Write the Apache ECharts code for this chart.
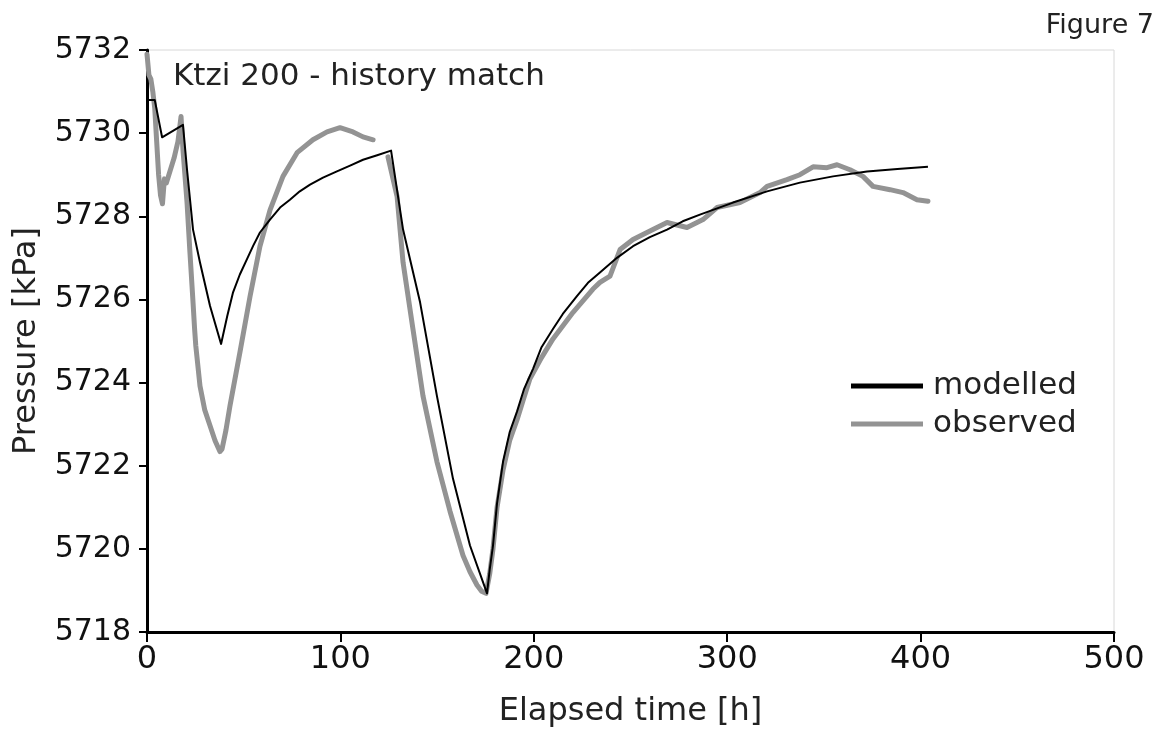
<!DOCTYPE html>
<html>
<head>
<meta charset="utf-8">
<script src="https://cdn.jsdelivr.net/npm/echarts@6/dist/echarts.min.js"></script>
<style>
    html, body { margin: 0; padding: 0; background: #fff; }
    #chart { width: 1164px; height: 733px; }
</style>
</head>
<body>
<div id="chart"></div>
<script>
    // modelled pressure (black line)
    var modT = [0, 4, 7.8, 18.6, 20.7, 23.8, 27.4, 32.6, 38.3, 41.5, 44.5, 48, 51.7, 55, 58.4, 63.6, 68.8, 73.9, 79, 84.3, 91, 98.2, 105, 111.7, 119, 126.2,
        132.4, 141.2, 149.9, 158.2, 167.0, 175.8, 177.2, 178.9, 181, 184.1, 187.5, 191.3, 195, 199.6, 204, 209.9, 215, 222.3, 228, 234.2, 243, 251.3, 260, 268.9, 277, 285.9,
        303.0, 320.6, 337.6, 354.7, 372.3, 388, 403.8]
    var modP = [5730.8, 5730.8, 5729.9, 5730.2, 5729.12, 5727.68, 5726.89, 5725.84, 5724.93, 5725.6, 5726.17, 5726.6, 5726.97, 5727.3, 5727.61, 5727.92, 5728.21, 5728.40, 5728.6, 5728.76, 5728.93, 5729.08, 5729.22, 5729.36, 5729.47, 5729.58,
        5727.68, 5725.93, 5723.68, 5721.69, 5720.08, 5718.93, 5719.5, 5720.08, 5721.1, 5722.1, 5722.8, 5723.3, 5723.85, 5724.33, 5724.85, 5725.29, 5725.65, 5726.08, 5726.4, 5726.65, 5727.0, 5727.28, 5727.5, 5727.68, 5727.88, 5728.04,
        5728.33, 5728.60, 5728.81, 5728.96, 5729.08, 5729.14, 5729.19]

    // observed pressure (grey line), null = gap in the record
    var obsT = [0, 1, 2, 3, 4, 5, 6, 7, 8, 9, 10, 12, 14, 16, 17.6, 18.6, 20.7, 22.2, 23.8, 24.6, 25.2, 27.4, 29.8, 32.6, 35.2, 37.7, 38.8,
        40.8, 42.9, 48.1, 53.3, 58.4, 63.6, 70.3, 77.6, 85.8, 93.1, 99.8, 106.5, 111.7, 116.9, 120,
        124.6, 129.3, 132.4, 137.5, 142.7, 149.9, 156.7, 163.4, 167, 170.6, 173, 175.3, 177.2, 178.9, 181, 184.1, 187.5, 191.3, 195, 198.0, 204, 209.9, 220.3, 230.6, 234.2,
        239.4, 244.6, 251.3, 261.6, 268.9, 279.2, 287.5, 294.7, 306.6, 317.0, 320.6, 330.9, 337.6, 344.4, 351.6, 356.8, 363.5,
        370.2, 375.4, 384.2, 390.9, 398.1, 403.8]
    var obsP = [5731.9, 5731.4, 5731.3, 5731.0, 5730.6, 5729.8, 5729.0, 5728.5, 5728.3, 5728.9, 5728.8, 5729.1, 5729.4, 5729.8, 5730.4, 5729.6, 5728.33, 5727.13, 5725.93, 5725.3, 5724.9, 5723.92, 5723.35, 5722.96, 5722.6, 5722.34, 5722.4,
        5722.85, 5723.44, 5724.74, 5726.08, 5727.28, 5728.15, 5728.96, 5729.53, 5729.84, 5730.03, 5730.13, 5730.03, 5729.91, 5729.84, null,
        5729.43, 5728.48, 5726.89, 5725.29, 5723.68, 5722.1, 5720.9, 5719.84, 5719.45, 5719.13, 5718.98, 5718.93, 5719.4, 5720.0, 5721.0, 5721.9, 5722.6, 5723.1, 5723.65, 5724.09, 5724.6, 5725.05, 5725.69, 5726.25, 5726.41,
        5726.56, 5727.2, 5727.44, 5727.68, 5727.85, 5727.73, 5727.92, 5728.21, 5728.33, 5728.57, 5728.72, 5728.88, 5729.0, 5729.19, 5729.17, 5729.24, 5729.12,
        5728.96, 5728.72, 5728.64, 5728.57, 5728.40, 5728.36]

    var font = 'DejaVu Sans'

    function pairs(t, p) {
        let out = []
        for (let i = 0; i < t.length; i++) {
            out.push([t[i], p[i] == null ? '-' : p[i]])
        }
        return out
    }

    var myChart = echarts.init(document.getElementById('chart'))
    var option = {
        animation: false,
        backgroundColor: '#fff',
        textStyle: { fontFamily: font },
        title: [
            {
                text: 'Ktzi 200 - history match',
                left: 168, top: 56,
                textStyle: { fontFamily: font, fontSize: 31, fontWeight: 'normal', color: '#222' }
            },
            {
                text: 'Figure 7',
                right: 5, top: 7,
                textStyle: { fontFamily: font, fontSize: 27, fontWeight: 'normal', color: '#222' }
            }
        ],
        legend: {
            orient: 'vertical',
            left: 846, top: 364,
            icon: 'rect',
            itemWidth: 72, itemHeight: 5,
            itemGap: 4,
            textStyle: { fontFamily: font, fontSize: 31, color: '#222', lineHeight: 34, padding: [0, 0, 0, 5] },
            data: ['modelled', 'observed']
        },
        grid: {
            left: 147, right: 50, top: 50, bottom: 99,
            show: true, borderColor: '#d8d8d8', borderWidth: 1
        },
        xAxis: {
            type: 'value',
            min: 0, max: 500, interval: 100,
            name: 'Elapsed time [h]',
            nameLocation: 'middle', nameGap: 64,
            nameTextStyle: { fontFamily: font, fontSize: 32, color: '#222' },
            axisLine: { lineStyle: { color: '#000', width: 3 } },
            axisTick: { inside: false, length: 10, lineStyle: { color: '#000', width: 2 } },
            axisLabel: { fontFamily: font, fontSize: 32, color: '#111', margin: 12 },
            splitLine: { show: false }
        },
        yAxis: {
            type: 'value',
            min: 5718, max: 5732, interval: 2,
            name: 'Pressure [kPa]',
            nameLocation: 'middle', nameGap: 104,
            nameTextStyle: { fontFamily: font, fontSize: 32, color: '#222' },
            axisLine: { show: true, lineStyle: { color: '#000', width: 3 } },
            axisTick: { show: true, inside: false, length: 8, lineStyle: { color: '#000', width: 2 } },
            axisLabel: {
                fontFamily: font, fontSize: 30, color: '#111', margin: 16,
                formatter: function (v) { return String(v) }
            },
            splitLine: { show: false }
        },
        series: [
            {
                name: 'modelled',
                type: 'line',
                data: pairs(modT, modP),
                symbol: 'none',
                z: 3,
                itemStyle: { color: '#000' },
                lineStyle: { color: '#000', width: 2, join: 'round' }
            },
            {
                name: 'observed',
                type: 'line',
                data: pairs(obsT, obsP),
                symbol: 'none',
                connectNulls: false,
                z: 2,
                itemStyle: { color: '#939393' },
                lineStyle: { color: '#939393', width: 5, join: 'round', cap: 'round' }
            }
        ]
    }
    myChart.setOption(option)
</script>
</body>
</html>
